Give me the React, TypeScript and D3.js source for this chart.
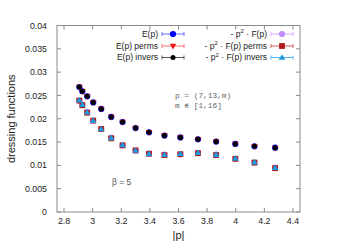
import React from 'react';
import * as d3 from 'd3';

// |p| values of the momenta
const momenta = [2.907, 2.928, 2.962, 3.004, 3.06, 3.13, 3.209, 3.3, 3.394, 3.502, 3.613, 3.736, 3.863, 3.997, 4.131, 4.275];

// E(p) series
const eP = [0.0268, 0.0259, 0.0248, 0.0235, 0.0221, 0.0204, 0.0193, 0.018, 0.0171, 0.0164, 0.016, 0.0156, 0.0151, 0.0146, 0.0141, 0.0138];
const ePPerms = [0.0268, 0.0259, 0.0248, 0.0235, 0.0221, 0.0204, 0.0193, 0.018, 0.0171, 0.0164, 0.016, 0.0156, 0.0151, 0.0146, 0.0141, 0.0137];
const ePInvers = [0.0268, 0.0259, 0.0248, 0.0235, 0.0221, 0.0204, 0.0193, 0.018, 0.0171, 0.0164, 0.016, 0.0156, 0.0151, 0.0146, 0.0141, 0.0138];

// -p^2 F(p) series
const fP = [0.0239, 0.0230, 0.0214, 0.0196, 0.0178, 0.0159, 0.0143, 0.0132, 0.0125, 0.0123, 0.0124, 0.0127, 0.0123, 0.0114, 0.0106, 0.0095];
const fPPerms = [0.0239, 0.0229, 0.0213, 0.0196, 0.0178, 0.0158, 0.0143, 0.0132, 0.0125, 0.0122, 0.0124, 0.0126, 0.0122, 0.0114, 0.0106, 0.0094];
const fPInvers = [0.0240, 0.0230, 0.0214, 0.0196, 0.0178, 0.0159, 0.0144, 0.0132, 0.0125, 0.0123, 0.0125, 0.0127, 0.0123, 0.0115, 0.0107, 0.0095];

const xTicks = [2.8, 3, 3.2, 3.4, 3.6, 3.8, 4, 4.2, 4.4];
const yTicks = [0, 0.005, 0.01, 0.015, 0.02, 0.025, 0.03, 0.035, 0.04];

const W = 341;
const H = 241;
const margin = { top: 25.5, right: 41, bottom: 29, left: 57 };
const font = '"Liberation Sans", Arial, sans-serif';

type Shape = 'circle' | 'small' | 'tridown' | 'square' | 'triup';

const series = [
  { label: 'E(p)', values: eP, color: '#0000ff', line: '#6a6aff', shape: 'circle' as Shape },
  { label: 'E(p) perms', values: ePPerms, color: '#f01818', line: '#ff7070', shape: 'tridown' as Shape },
  { label: 'E(p) invers', values: ePInvers, color: '#000000', line: '#555555', shape: 'small' as Shape },
  { label: 'F', values: fP, color: '#c48cff', line: '#d4aaff', shape: 'circle' as Shape },
  { label: 'F perms', values: fPPerms, color: '#b01c1c', line: '#d06060', shape: 'square' as Shape },
  { label: 'F invers', values: fPInvers, color: '#1d9be0', line: '#50b8f0', shape: 'triup' as Shape },
];

const Marker = ({ x, y, shape, color }: { x: number; y: number; shape: Shape; color: string }) => {
  if (shape === 'circle') return <circle cx={x} cy={y} r={3.1} fill={color} />;
  if (shape === 'small') return <circle cx={x} cy={y} r={2.5} fill={color} />;
  if (shape === 'square') return <rect x={x - 2.9} y={y - 2.9} width={5.8} height={5.8} fill={color} />;
  if (shape === 'tridown') {
    return <path d={`M${x - 3.3},${y - 2.2}L${x + 3.3},${y - 2.2}L${x},${y + 3.5}Z`} fill={color} />;
  }
  return <path d={`M${x - 3.3},${y + 2.3}L${x + 3.3},${y + 2.3}L${x},${y - 3.3}Z`} fill={color} />;
};

const App = () => {
  const x = d3.scaleLinear().domain([2.751, 4.449]).range([margin.left, W - margin.right]);
  const y = d3.scaleLinear().domain([0, 0.04]).range([H - margin.bottom, margin.top]);
  const x0 = margin.left;
  const x1 = W - margin.right;
  const y0 = H - margin.bottom;
  const y1 = margin.top;
  const border = '#8a8a8a';

  const legendRows = [34, 46, 57.5];

  const legendItem = (s: typeof series[number], lx: number, ly: number) => (
    <g key={s.label}>
      <line x1={lx} x2={lx + 22} y1={ly} y2={ly} stroke={s.line} strokeWidth={1} />
      <line x1={lx} x2={lx} y1={ly - 2} y2={ly + 2} stroke={s.line} strokeWidth={1} />
      <line x1={lx + 22} x2={lx + 22} y1={ly - 2} y2={ly + 2} stroke={s.line} strokeWidth={1} />
      <Marker x={lx + 11} y={ly} shape={s.shape} color={s.color} />
    </g>
  );

  const fLabel = (suffix: string) => (
    <>
      {'- p'}
      <tspan dy={-3.5} fontSize={6}>2</tspan>
      <tspan dy={3.5}>{' \u00b7 F(p)' + suffix}</tspan>
    </>
  );

  return (
    <svg width={W} height={H} style={{ position: 'absolute', left: 0, top: 0 }} fontFamily={font}>
      <rect width={W} height={H} fill="#ffffff" />

      {/* ticks, mirrored on all sides */}
      {yTicks.map(t => (
        <g key={'y' + t}>
          <line x1={x0} x2={x0 + 4} y1={y(t)} y2={y(t)} stroke={border} />
          <line x1={x1} x2={x1 - 4} y1={y(t)} y2={y(t)} stroke={border} />
          <text x={x0 - 10} y={y(t)} dy="0.35em" textAnchor="end" fontSize={8.8} fill="#222">{t}</text>
        </g>
      ))}
      {xTicks.map(t => (
        <g key={'x' + t}>
          <line x1={x(t)} x2={x(t)} y1={y0} y2={y0 - 4} stroke={border} />
          <line x1={x(t)} x2={x(t)} y1={y1} y2={y1 + 4} stroke={border} />
          <text x={x(t)} y={y0 + 11.5} textAnchor="middle" fontSize={8.8} fill="#222">{t}</text>
        </g>
      ))}
      <rect x={x0} y={y1} width={x1 - x0} height={y0 - y1} fill="none" stroke={border} strokeWidth={1} />

      {/* axis titles */}
      <text transform={`translate(15,${(y0 + y1) / 2}) rotate(-90)`} textAnchor="middle" fontSize={11} fill="#222">dressing functions</text>
      <text x={(x0 + x1) / 2} y={H - 2.5} textAnchor="middle" fontSize={11} fill="#222">|p|</text>

      {/* data points */}
      {series.map(s => (
        <g key={s.label}>
          {s.values.map((v, i) => (
            <Marker key={i} x={x(momenta[i])} y={y(v)} shape={s.shape} color={s.color} />
          ))}
        </g>
      ))}

      {/* legend */}
      {series.slice(0, 3).map((s, i) => (
        <g key={'l' + s.label}>
          <text x={158} y={legendRows[i]} dy="0.35em" textAnchor="end" fontSize={8.5} fill="#222">{s.label}</text>
          {legendItem(s, 162, legendRows[i])}
        </g>
      ))}
      {series.slice(3).map((s, i) => (
        <g key={'r' + s.label}>
          <text x={267} y={legendRows[i]} dy="0.35em" textAnchor="end" fontSize={8.5} fill="#222">
            {fLabel(['', ' perms', ' invers'][i])}
          </text>
          {legendItem(s, 271, legendRows[i])}
        </g>
      ))}

      {/* annotations */}
      <text x={175} y={95.5} dy="0.35em" fontSize={7.8} fontFamily='"Liberation Mono", monospace' fill="#666">p = (7,13,m)</text>
      <text x={175} y={105.5} dy="0.35em" fontSize={7.8} fontFamily='"Liberation Mono", monospace' fill="#666">m ∊ [1,16]</text>
      <text x={112} y={182} dy="0.35em" fontSize={8.5} fill="#555">β = 5</text>
    </svg>
  );
};

export default App;
